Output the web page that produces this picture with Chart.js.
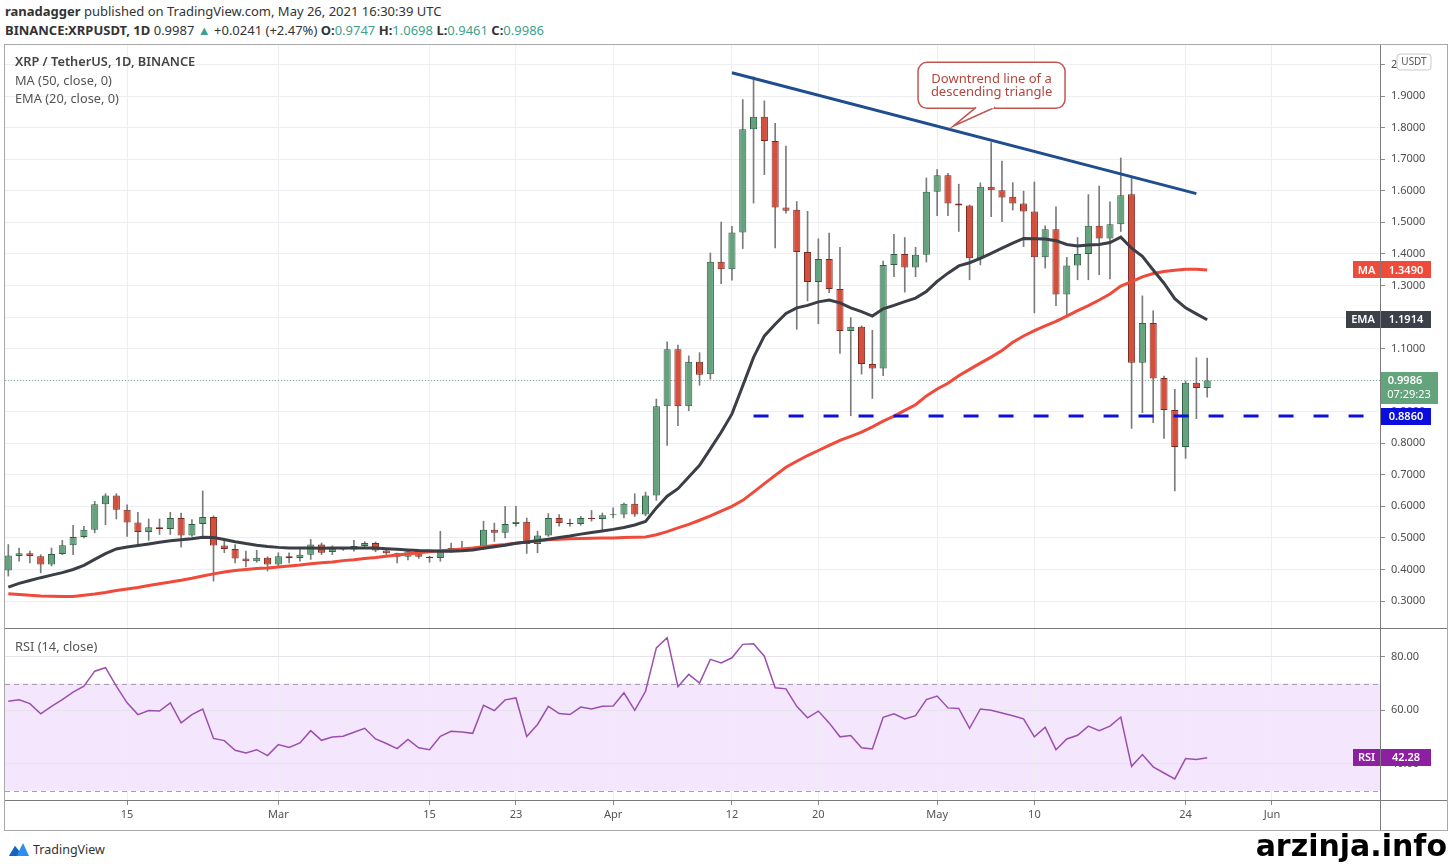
<!DOCTYPE html>
<html>
<head>
<meta charset="utf-8">
<title>XRP / TetherUS, 1D</title>
<script src="https://cdn.jsdelivr.net/npm/chart.js@4/dist/chart.umd.min.js"></script>
<style>
body { margin: 0; background: #fff; font-family: "Noto Sans", sans-serif; color: #333; }
#page { position: relative; width: 1450px; height: 864px; overflow: hidden; }
.abs { position: absolute; white-space: nowrap; }
canvas { position: absolute; }
#head1 { left: 5px; top: 2px; font-size: 13px; }
#head2 { left: 5px; top: 21px; font-size: 13px; }
.teal { color: #3f9f8b; }
#legend { left: 15px; top: 52px; font-size: 12.8px; color: #555; line-height: 18.5px; }
#legend .main { color: #444; font-weight: 600; }
#rsiLegend { left: 15px; top: 637px; font-size: 12.8px; color: #555; }
#frame { left: 4px; top: 44px; width: 1444px; height: 787px; border: 1px solid #a8a8a8; box-sizing: border-box; }
.hline { position: absolute; height: 1px; background: #7a7a7a; }
.vline { position: absolute; width: 1px; background: #7a7a7a; }
#tv { left: 8px; top: 841px; font-size: 12.5px; color: #333; }
#tv svg { vertical-align: -3px; margin-right: 3px; }
#wm { right: 3px; top: 831px; font-family: "DejaVu Sans", sans-serif; font-weight: bold; font-size: 30px; line-height: 30px; color: #000; }
</style>
</head>
<body>
<div id="page">
<canvas id="priceChart" width="1442" height="583" style="left:5px; top:45px;"></canvas>
<canvas id="rsiChart" width="1442" height="202" style="left:5px; top:628px;"></canvas>

<div id="frame" class="abs"></div>
<div class="hline" style="left:5px; top:628px; width:1442px;"></div>
<div class="hline" style="left:5px; top:800px; width:1442px;"></div>
<div class="vline" style="left:1380px; top:45px; height:785px;"></div>

<div id="head1" class="abs"><b>ranadagger</b> published on TradingView.com, May 26, 2021 16:30:39 UTC</div>
<div id="head2" class="abs"><b>BINANCE:XRPUSDT, 1D</b> 0.9987 <span class="teal">&#9650;</span> +0.0241 (+2.47%) <b>O:</b><span class="teal">0.9747</span> <b>H:</b><span class="teal">1.0698</span> <b>L:</b><span class="teal">0.9461</span> <b>C:</b><span class="teal">0.9986</span></div>
<div id="legend" class="abs"><span class="main">XRP / TetherUS, 1D, BINANCE</span><br>MA (50, close, 0)<br>EMA (20, close, 0)</div>
<div id="rsiLegend" class="abs">RSI (14, close)</div>
<div id="tv" class="abs"><svg width="22" height="15" viewBox="0 0 22 15"><path d="M1 14 L7 4 L11 9 L15 1 L21 14 Z" fill="#2b8ef0"/><path d="M1 14 L7 4 L11 9 L9 14 Z" fill="#1565c0"/></svg>TradingView</div>
<div id="wm" class="abs">arzinja.info</div>
</div>

<script>
// one candle per day, index 0 = 4 Feb 2021 ... index 111 = 26 May 2021
var opens = [
    0.397, 0.443, 0.451, 0.442, 0.416, 0.449, 0.477, 0.503, 0.526, 0.607,
    0.634, 0.589, 0.549, 0.519, 0.534, 0.528, 0.563, 0.508, 0.544, 0.566,
    0.476, 0.465, 0.435, 0.426, 0.437, 0.416, 0.442, 0.436, 0.447, 0.479,
    0.455, 0.466, 0.463, 0.474, 0.484, 0.460, 0.451, 0.440, 0.458, 0.440,
    0.436, 0.460, 0.468, 0.467, 0.464, 0.526, 0.516, 0.544, 0.551, 0.481,
    0.508, 0.563, 0.547, 0.544, 0.563, 0.560, 0.572, 0.574, 0.608, 0.574,
    0.634, 0.917, 1.098, 0.917, 1.058, 1.019, 1.375, 1.351, 1.468, 1.795,
    1.835, 1.758, 1.547, 1.540, 1.406, 1.311, 1.384, 1.289, 1.156, 1.169,
    1.051, 1.037, 1.365, 1.400, 1.357, 1.397, 1.597, 1.649, 1.560, 1.553,
    1.386, 1.613, 1.602, 1.581, 1.560, 1.534, 1.389, 1.478, 1.271, 1.363,
    1.400, 1.489, 1.449, 1.494, 1.589, 1.055, 1.181, 1.007, 0.905, 0.788,
    0.992, 0.9747
];
var highs = [
    0.479, 0.468, 0.458, 0.447, 0.468, 0.492, 0.540, 0.537, 0.616, 0.640,
    0.640, 0.605, 0.581, 0.560, 0.560, 0.581, 0.579, 0.558, 0.649, 0.570,
    0.495, 0.479, 0.458, 0.461, 0.440, 0.453, 0.453, 0.468, 0.495, 0.484,
    0.475, 0.470, 0.492, 0.488, 0.487, 0.462, 0.452, 0.462, 0.462, 0.442,
    0.521, 0.484, 0.489, 0.470, 0.553, 0.547, 0.600, 0.600, 0.563, 0.521,
    0.577, 0.574, 0.560, 0.568, 0.587, 0.579, 0.595, 0.610, 0.640, 0.645,
    0.940, 1.121, 1.111, 1.077, 1.087, 1.403, 1.501, 1.487, 1.889, 1.961,
    1.885, 1.814, 1.742, 1.566, 1.535, 1.448, 1.466, 1.421, 1.198, 1.172,
    1.158, 1.377, 1.462, 1.452, 1.421, 1.641, 1.667, 1.655, 1.621, 1.555,
    1.625, 1.753, 1.694, 1.626, 1.599, 1.628, 1.489, 1.549, 1.389, 1.452,
    1.588, 1.615, 1.565, 1.704, 1.641, 1.267, 1.220, 1.013, 0.971, 0.997,
    1.071, 1.0698
];
var lows = [
    0.379, 0.426, 0.421, 0.389, 0.411, 0.447, 0.447, 0.500, 0.516, 0.542,
    0.560, 0.505, 0.479, 0.492, 0.511, 0.511, 0.471, 0.505, 0.505, 0.363,
    0.453, 0.421, 0.408, 0.423, 0.395, 0.408, 0.421, 0.426, 0.432, 0.447,
    0.447, 0.460, 0.458, 0.470, 0.456, 0.447, 0.421, 0.430, 0.435, 0.423,
    0.426, 0.455, 0.460, 0.460, 0.463, 0.489, 0.500, 0.537, 0.451, 0.453,
    0.505, 0.537, 0.537, 0.540, 0.553, 0.526, 0.563, 0.563, 0.568, 0.570,
    0.619, 0.793, 0.856, 0.903, 0.984, 1.003, 1.306, 1.317, 1.417, 1.561,
    1.651, 1.419, 1.529, 1.161, 1.251, 1.179, 1.277, 1.085, 0.887, 1.019,
    0.942, 1.014, 1.328, 1.279, 1.328, 1.374, 1.521, 1.521, 1.471, 1.318,
    1.365, 1.518, 1.502, 1.539, 1.423, 1.213, 1.355, 1.236, 1.202, 1.318,
    1.318, 1.334, 1.321, 1.471, 0.847, 0.897, 0.865, 0.815, 0.649, 0.752,
    0.878, 0.9461
];
var closes = [
    0.444, 0.451, 0.443, 0.416, 0.449, 0.477, 0.503, 0.526, 0.607, 0.634,
    0.589, 0.549, 0.519, 0.534, 0.528, 0.563, 0.508, 0.544, 0.566, 0.476,
    0.465, 0.435, 0.426, 0.437, 0.416, 0.442, 0.436, 0.447, 0.479, 0.453,
    0.466, 0.463, 0.474, 0.484, 0.460, 0.451, 0.440, 0.458, 0.440, 0.436,
    0.460, 0.468, 0.463, 0.464, 0.526, 0.516, 0.544, 0.551, 0.481, 0.508,
    0.563, 0.547, 0.544, 0.563, 0.560, 0.572, 0.574, 0.608, 0.574, 0.634,
    0.917, 1.098, 0.917, 1.058, 1.017, 1.375, 1.351, 1.468, 1.795, 1.835,
    1.758, 1.547, 1.537, 1.406, 1.311, 1.384, 1.289, 1.156, 1.169, 1.051,
    1.037, 1.365, 1.400, 1.357, 1.397, 1.597, 1.649, 1.560, 1.553, 1.386,
    1.613, 1.602, 1.579, 1.560, 1.534, 1.389, 1.478, 1.271, 1.363, 1.400,
    1.489, 1.449, 1.494, 1.586, 1.055, 1.181, 1.005, 0.905, 0.788, 0.992,
    0.9747, 0.9986
];
var ma50 = [
    0.323, 0.321, 0.318, 0.316, 0.315, 0.314, 0.314, 0.318, 0.322, 0.327,
    0.333, 0.338, 0.343, 0.349, 0.355, 0.360, 0.366, 0.372, 0.379, 0.386,
    0.392, 0.397, 0.400, 0.403, 0.405, 0.408, 0.411, 0.414, 0.418, 0.421,
    0.424, 0.428, 0.431, 0.435, 0.438, 0.442, 0.446, 0.449, 0.453, 0.456,
    0.459, 0.462, 0.465, 0.468, 0.472, 0.476, 0.479, 0.483, 0.487, 0.491,
    0.494, 0.496, 0.497, 0.498, 0.499, 0.500, 0.500, 0.501, 0.502, 0.503,
    0.510, 0.520, 0.532, 0.543, 0.556, 0.570, 0.585, 0.600, 0.619, 0.645,
    0.672, 0.698, 0.724, 0.743, 0.761, 0.777, 0.793, 0.809, 0.822, 0.835,
    0.852, 0.870, 0.886, 0.904, 0.922, 0.950, 0.972, 0.990, 1.014, 1.034,
    1.054, 1.073, 1.094, 1.120, 1.140, 1.157, 1.172, 1.186, 1.203, 1.220,
    1.236, 1.254, 1.273, 1.298, 1.312, 1.327, 1.338, 1.344, 1.348, 1.351,
    1.351, 1.349
];
var ema20 = [
    0.344, 0.356, 0.365, 0.374, 0.382, 0.390, 0.400, 0.413, 0.432, 0.450,
    0.465, 0.471, 0.476, 0.481, 0.486, 0.491, 0.494, 0.497, 0.502, 0.501,
    0.495, 0.488, 0.482, 0.477, 0.473, 0.470, 0.468, 0.468, 0.468, 0.467,
    0.468, 0.468, 0.468, 0.468, 0.468, 0.466, 0.464, 0.462, 0.460, 0.459,
    0.458, 0.458, 0.459, 0.462, 0.467, 0.472, 0.477, 0.483, 0.487, 0.491,
    0.496, 0.501, 0.506, 0.512, 0.517, 0.522, 0.527, 0.533, 0.541, 0.552,
    0.595, 0.632, 0.656, 0.693, 0.730, 0.782, 0.835, 0.893, 0.982, 1.072,
    1.140, 1.177, 1.211, 1.229, 1.237, 1.248, 1.254, 1.245, 1.229, 1.217,
    1.203, 1.226, 1.237, 1.249, 1.260, 1.281, 1.313, 1.339, 1.362, 1.372,
    1.386, 1.402, 1.418, 1.434, 1.449, 1.448, 1.447, 1.442, 1.430, 1.425,
    1.428, 1.430, 1.436, 1.453, 1.418, 1.392, 1.349, 1.307, 1.258, 1.229,
    1.210, 1.1914
];
var rsi14 = [
    63.4, 63.9, 62.5, 58.7, 61.5, 64.0, 66.8, 69.0, 74.6, 75.9,
    69.0, 62.8, 58.4, 59.9, 59.7, 62.8, 55.3, 58.4, 60.5, 49.5,
    48.7, 45.1, 44.1, 45.3, 43.1, 47.2, 46.1, 47.8, 52.4, 48.8,
    50.0, 50.3, 51.8, 53.3, 49.3, 47.6, 45.7, 49.1, 46.0, 45.3,
    50.3, 52.2, 51.9, 51.4, 61.9, 59.9, 63.9, 64.6, 50.2, 54.7,
    61.5, 58.8, 58.4, 61.2, 60.5, 61.5, 61.6, 66.5, 60.0, 67.1,
    83.3, 87.1, 68.8, 73.4, 70.2, 79.0, 77.7, 79.6, 84.6, 84.8,
    80.2, 68.4, 68.0, 61.5, 57.2, 59.7, 55.3, 50.1, 50.6, 46.0,
    45.6, 57.4, 58.7, 56.8, 58.0, 64.0, 65.3, 60.9, 60.7, 53.3,
    60.5, 60.0, 59.0, 58.0, 56.8, 50.1, 53.7, 45.3, 49.3, 50.7,
    54.1, 52.4, 54.1, 57.5, 39.1, 43.5, 38.9, 36.6, 34.4, 42.0,
    41.6, 42.28
];
var tickDays = [11, 25, 39, 47, 56, 67, 75, 86, 95, 109, 117];
var tickLabels = ['15', 'Mar', '15', '23', 'Apr', '12', '20', 'May', '10', '24', 'Jun'];
var priceTicks = [0.3, 0.4, 0.5, 0.6, 0.7, 0.8, 0.9, 1.0, 1.1, 1.2, 1.3, 1.4, 1.5, 1.6, 1.7, 1.8, 1.9, 2.0];
var rsiTicks = [40, 60, 80];
var trendDays = [67, 110];
var trendPrices = [1.974, 1.591];
var supportLevel = 0.886;
var supportFrom = 69;
var lastPrice = 0.9986;
var countdown = '07:29:23';

Chart.defaults.font.family = '"Noto Sans", sans-serif';

var xMin = -0.306, xMax = 127;
var upColor = '#67a27f', upEdge = '#2f5f45';
var downColor = '#d4503d', downEdge = '#7a2a20';

var wicks = [], bodies = [], maPts = [], emaPts = [], rsiPts = [];
for (var i = 0; i < closes.length; i++) {
    wicks.push({x: i, y: [lows[i], highs[i]]});
    bodies.push({x: i, y: [opens[i], closes[i]]});
    maPts.push({x: i, y: ma50[i]});
    emaPts.push({x: i, y: ema20[i]});
    rsiPts.push({x: i, y: rsi14[i]});
}
function isUp(ctx) {
    return closes[ctx.dataIndex] >= opens[ctx.dataIndex];
}
function dayTicks(s) {
    s.ticks = tickDays.map(function (v) { return {value: v}; });
}

function tag(ctx, x, y, w, h, bg, text) {
    ctx.fillStyle = bg;
    ctx.fillRect(x, Math.round(y - h / 2), w, h);
    ctx.fillStyle = '#fff';
    ctx.textAlign = 'center';
    ctx.textBaseline = 'middle';
    ctx.fillText(text, x + w / 2, y + 0.5);
}

var priceOverlay = {
    id: 'priceOverlay',
    afterDraw: function (chart) {
        var ctx = chart.ctx, xs = chart.scales.x, ys = chart.scales.y;
        var ax = chart.chartArea.right;
        ctx.save();

        // callout pointing at the downtrend line
        var tipDay = 87.47;
        var t = (tipDay - trendDays[0]) / (trendDays[1] - trendDays[0]);
        var tipX = xs.getPixelForValue(tipDay);
        var tipY = ys.getPixelForValue(trendPrices[0] + t * (trendPrices[1] - trendPrices[0])) - 4;
        var bx = tipX - 35, by = tipY - 64, bw = 147, bh = 46;
        ctx.beginPath();
        ctx.roundRect(bx, by, bw, bh, 9);
        ctx.fillStyle = '#fff';
        ctx.fill();
        ctx.strokeStyle = '#c25550';
        ctx.lineWidth = 1.5;
        ctx.stroke();
        ctx.beginPath();
        ctx.moveTo(tipX + 23, by + bh - 1);
        ctx.lineTo(tipX, tipY);
        ctx.lineTo(tipX + 42, by + bh - 1);
        ctx.fillStyle = '#fff';
        ctx.fill();
        ctx.stroke();
        ctx.fillRect(tipX + 24, by + bh - 3, 17, 3);
        ctx.fillStyle = '#b4463e';
        ctx.font = '13px "Noto Sans"';
        ctx.textAlign = 'center';
        ctx.textBaseline = 'middle';
        ctx.fillText('Downtrend line of a', tipX + 38.5, tipY - 47);
        ctx.fillText('descending triangle', tipX + 38.5, tipY - 34);

        // price tags on the axis
        ctx.font = '600 11px "Noto Sans"';
        var yMa = ys.getPixelForValue(ma50[ma50.length - 1]);
        tag(ctx, ax - 27, yMa, 27, 17, '#ee4b3a', 'MA');
        tag(ctx, ax + 1, yMa, 50, 17, '#ee4b3a', ma50[ma50.length - 1].toFixed(4));
        var yEma = ys.getPixelForValue(ema20[ema20.length - 1]);
        tag(ctx, ax - 34, yEma, 34, 17, '#3d4049', 'EMA');
        tag(ctx, ax + 1, yEma, 50, 17, '#3d4049', ema20[ema20.length - 1].toFixed(4));
        var yLast = ys.getPixelForValue(lastPrice);
        ctx.fillStyle = '#64a47d';
        ctx.fillRect(ax + 1, Math.round(yLast - 9), 57, 32);
        ctx.fillStyle = '#fff';
        ctx.fillText(lastPrice.toFixed(4), ax + 25, yLast + 0.5);
        ctx.font = '11px "Noto Sans"';
        ctx.fillText(countdown, ax + 29, yLast + 14);
        ctx.font = '600 11px "Noto Sans"';
        tag(ctx, ax + 1, ys.getPixelForValue(supportLevel), 50, 17, '#0b0ddc', supportLevel.toFixed(4));

        // unit box at the top of the axis
        ctx.beginPath();
        ctx.roundRect(ax + 17, 9, 34, 16, 3);
        ctx.fillStyle = '#fff';
        ctx.fill();
        ctx.strokeStyle = '#c9c9c9';
        ctx.lineWidth = 1;
        ctx.stroke();
        ctx.fillStyle = '#555';
        ctx.font = '10px "Noto Sans"';
        ctx.fillText('USDT', ax + 34, 17.5);
        ctx.restore();
    }
};

var data = {
    datasets: [{
        type: 'line',
        data: [{x: trendDays[0], y: trendPrices[0]}, {x: trendDays[1], y: trendPrices[1]}],
        borderColor: '#1f4e8e',
        borderWidth: 3,
        pointRadius: 0,
        order: 0
    }, {
        type: 'line',
        data: [{x: supportFrom, y: supportLevel}, {x: xMax, y: supportLevel}],
        borderColor: '#0b10de',
        borderWidth: 3,
        borderDash: [15, 20],
        pointRadius: 0,
        order: 1
    }, {
        type: 'line',
        data: emaPts,
        borderColor: '#3b3e46',
        borderWidth: 3,
        pointRadius: 0,
        order: 2
    }, {
        type: 'line',
        data: maPts,
        borderColor: '#ef4a3a',
        borderWidth: 3,
        pointRadius: 0,
        order: 3
    }, {
        type: 'bar',
        data: bodies,
        grouped: false,
        categoryPercentage: 1,
        barPercentage: 0.66,
        backgroundColor: function (ctx) { return isUp(ctx) ? upColor : downColor; },
        borderColor: function (ctx) { return isUp(ctx) ? upEdge : downEdge; },
        borderWidth: 1,
        borderSkipped: false,
        minBarLength: 1,
        order: 4
    }, {
        type: 'bar',
        data: wicks,
        grouped: false,
        barThickness: 1,
        backgroundColor: '#7b7b7b',
        order: 5
    }, {
        type: 'line',
        data: [{x: xMin, y: lastPrice}, {x: xMax, y: lastPrice}],
        borderColor: '#86ab96',
        borderWidth: 1,
        borderDash: [1, 2],
        pointRadius: 0,
        order: 6
    }]
};

var config = {
    type: 'bar',
    data: data,
    options: {
        responsive: false,
        animation: false,
        events: [],
        layout: { padding: 0 },
        plugins: { legend: { display: false }, tooltip: { enabled: false } },
        scales: {
            x: {
                type: 'linear',
                min: xMin,
                max: xMax,
                offset: false,
                afterBuildTicks: dayTicks,
                ticks: { display: false },
                grid: { color: '#eceef2', drawTicks: false, offset: false },
                border: { display: false },
                afterFit: function (s) { s.height = 0; s.paddingLeft = 0; s.paddingRight = 0; }
            },
            y: {
                position: 'right',
                min: 0.2145,
                max: 2.062,
                afterBuildTicks: function (s) {
                    s.ticks = priceTicks.map(function (v) { return {value: v}; });
                },
                ticks: {
                    color: '#4d4d4d',
                    font: { size: 11 },
                    padding: 6,
                    callback: function (v) { return v.toFixed(4); }
                },
                grid: { color: '#eceef2', tickColor: '#8a8a8a', tickLength: 5 },
                border: { display: false },
                afterFit: function (s) { s.width = 67; s.paddingTop = 0; s.paddingBottom = 0; }
            }
        }
    },
    plugins: [priceOverlay]
};
var priceChart = new Chart(document.getElementById('priceChart'), config);

// RSI pane
var rsiOverlay = {
    id: 'rsiOverlay',
    beforeDraw: function (chart) {
        var ctx = chart.ctx, a = chart.chartArea, ys = chart.scales.y;
        var y70 = ys.getPixelForValue(70), y30 = ys.getPixelForValue(30);
        ctx.save();
        ctx.fillStyle = '#f4e6fc';
        ctx.fillRect(a.left, y70, a.right - a.left, y30 - y70);
        ctx.restore();
    },
    beforeDatasetsDraw: function (chart) {
        var ctx = chart.ctx, a = chart.chartArea, ys = chart.scales.y;
        ctx.save();
        ctx.strokeStyle = '#a99bb0';
        ctx.lineWidth = 1;
        ctx.setLineDash([5, 4]);
        [70, 30].forEach(function (v) {
            var y = Math.round(ys.getPixelForValue(v)) + 0.5;
            ctx.beginPath();
            ctx.moveTo(a.left, y);
            ctx.lineTo(a.right, y);
            ctx.stroke();
        });
        ctx.restore();
    },
    afterDraw: function (chart) {
        var ctx = chart.ctx, ax = chart.chartArea.right;
        var last = rsi14[rsi14.length - 1];
        var y = chart.scales.y.getPixelForValue(last);
        ctx.save();
        ctx.font = '600 11px "Noto Sans"';
        tag(ctx, ax - 27, y, 27, 17, '#8d1fa1', 'RSI');
        tag(ctx, ax + 1, y, 50, 17, '#8d1fa1', last.toFixed(2));
        ctx.restore();
    }
};

var rsiConfig = {
    type: 'line',
    data: {
        datasets: [{
            data: rsiPts,
            borderColor: '#9a4fae',
            borderWidth: 1.5,
            pointRadius: 0
        }]
    },
    options: {
        responsive: false,
        animation: false,
        events: [],
        layout: { padding: 0 },
        plugins: { legend: { display: false }, tooltip: { enabled: false } },
        scales: {
            x: {
                type: 'linear',
                min: xMin,
                max: xMax,
                afterBuildTicks: dayTicks,
                ticks: {
                    autoSkip: false,
                    maxRotation: 0,
                    color: '#555',
                    font: { size: 11 },
                    padding: 3,
                    callback: function (v) { return tickLabels[tickDays.indexOf(v)]; }
                },
                grid: { color: '#eceef2', tickColor: '#8a8a8a', tickLength: 5 },
                border: { display: false },
                afterFit: function (s) { s.height = 30; s.paddingLeft = 0; s.paddingRight = 0; }
            },
            y: {
                position: 'right',
                min: 26.53,
                max: 90.71,
                afterBuildTicks: function (s) {
                    s.ticks = rsiTicks.map(function (v) { return {value: v}; });
                },
                ticks: {
                    color: '#4d4d4d',
                    font: { size: 11 },
                    padding: 6,
                    callback: function (v) { return v.toFixed(2); }
                },
                grid: { color: '#e6e3ea', tickColor: '#8a8a8a', tickLength: 5 },
                border: { display: false },
                afterFit: function (s) { s.width = 67; s.paddingTop = 0; s.paddingBottom = 0; }
            }
        }
    },
    plugins: [rsiOverlay]
};
var rsiChart = new Chart(document.getElementById('rsiChart'), rsiConfig);
</script>
</body>
</html>
